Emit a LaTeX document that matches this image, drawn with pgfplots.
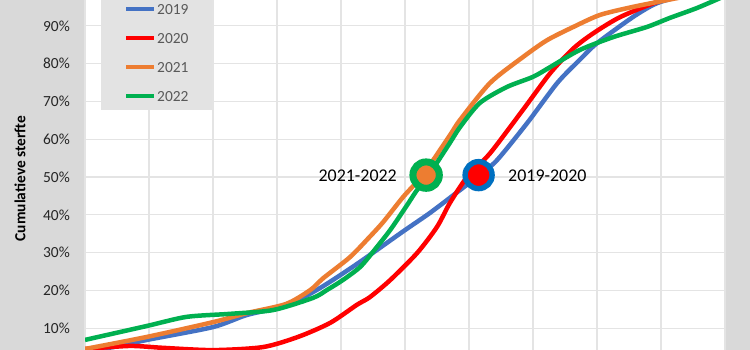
\documentclass[border=0pt]{standalone}
\usepackage{pgfplots}
\pgfplotsset{compat=1.18}
\usepackage{fontspec}
\setmainfont{Carlito}
\definecolor{bggray}{HTML}{D9D9D9}
\definecolor{leggray}{HTML}{E3E3E3}
\definecolor{gridc}{HTML}{E4E4E4}
\definecolor{c19}{HTML}{4472C4}
\definecolor{c20}{HTML}{FF0000}
\definecolor{c21}{HTML}{ED7D31}
\definecolor{c22}{HTML}{00B050}
\definecolor{cblue}{HTML}{0070C0}
\begin{document}
\begin{tikzpicture}
\path[use as bounding box] (0,0) rectangle (750bp,350bp);
\clip (0,0) rectangle (750bp,350bp);
\fill[bggray] (0,0) rectangle (750bp,350bp);
\begin{axis}[
  at={(85bp,0bp)}, anchor=south west,
  scale only axis, width=640bp, height=350bp,
  xmin=0, xmax=10, ymin=4.23, ymax=96.83,
  xtick={0,1,...,10}, xticklabels={},
  ytick={10,20,...,90},
  yticklabel={\pgfmathprintnumber{\tick}\%},
  /pgf/number format/assume math mode=true,
  yticklabel style={font=\fontsize{15.5}{18}\selectfont, text=black!85, inner xsep=0pt, xshift=-15bp},
  axis background/.style={fill=white},
  axis line style={draw=none},
  major tick length=0pt,
  grid=major,
  grid style={draw=gridc, line width=1.3bp},
  ylabel={\textbf{Cumulatieve sterfte}},
  ylabel style={at={(axis description cs:-0.1016,0.49)}, anchor=center, font=\fontsize{15.5}{18}\selectfont},
  legend cell align=left,
  legend image code/.code={\draw[#1, line width=4bp] (0bp,0bp) -- (28bp,0bp);},
  legend style={at={(rel axis cs:0.025,0.6857)}, anchor=south west, fill=leggray, draw=none,
    font=\fontsize{15.5}{18}\selectfont, text=black!65,
    nodes={inner sep=0pt, text height=11bp, text depth=0bp},
    row sep=18bp, column sep=1bp, inner xsep=23bp, inner ysep=8.5bp},
  every axis plot/.append style={line width=4.5bp, smooth, tension=0.45},
]
\addplot[c19] coordinates {
(0,4.0) (0.44,5.0) (0.97,6.9) (2.0,10.3) (2.53,13.5) (3.16,16.1) (3.67,20.6)
(4.25,27.0) (4.97,35.6) (5.39,40.5) (5.81,45.9) (6.17,50.6) (6.44,54.5)
(6.91,64.3) (7.38,74.9) (7.73,81.0) (8.0,85.4) (8.56,92.3) (8.94,96.0)
(9.45,98.4) (10,100)};
\addlegendentry{2019}
\addplot[c20] coordinates {
(0,4.5) (0.70,5.3) (1.22,4.8) (2.0,4.2) (2.78,5.0) (3.33,7.7) (3.83,11.4)
(4.25,16.2) (4.45,18.2) (4.77,22.75) (5.19,29.9) (5.5,36.8) (5.70,43.1)
(5.97,50.0) (6.33,56.3) (6.84,67.7) (7.27,77.5) (7.63,84.0) (7.94,88.0)
(8.36,92.3) (8.94,96.3) (9.45,98.4) (10,100)};
\addlegendentry{2020}
\addplot[c21] coordinates {
(0,4.5) (0.97,7.7) (2.0,11.6) (2.53,14.0) (3.14,16.4) (3.52,20.1) (3.72,23.2)
(4.14,28.8) (4.45,34.2) (4.66,38.1) (4.97,44.7) (5.28,50.6) (5.70,61.0)
(5.86,65.1) (6.33,74.9) (6.84,81.7) (7.22,86.2) (7.63,89.7) (8.05,92.9)
(8.56,95.0) (9.09,96.8) (9.6,98.5) (10,100)};
\addlegendentry{2021}
\addplot[c22] coordinates {
(0,6.9) (0.97,10.6) (1.59,13.0) (2.27,13.8) (2.94,14.8) (3.56,18.0) (3.78,20.1)
(4.03,22.75) (4.30,26.2) (4.50,30.2) (4.77,36.0) (5.03,42.5) (5.19,46.6)
(5.39,51.0) (5.70,59.0) (5.86,63.2) (6.17,69.6) (6.59,73.8) (7.0,76.5)
(7.27,79.1) (7.73,83.6) (8.25,87.0) (8.78,89.7) (9.14,92.1) (9.56,94.7) (10,97.9)};
\addlegendentry{2022}
\addplot[forget plot, only marks, mark=*, mark size=13.2bp, mark options={draw=c22, fill=c21, line width=7bp}] coordinates {(5.33,50.5)};
\addplot[forget plot, only marks, mark=*, mark size=13.5bp, mark options={draw=cblue, fill=c20, line width=5.4bp}] coordinates {(6.15,50.5)};
\node[anchor=east, inner sep=0pt, font=\fontsize{18}{21}\selectfont] at (axis cs:4.875,50.3) {2021-2022};
\node[anchor=west, inner sep=0pt, font=\fontsize{18}{21}\selectfont] at (axis cs:6.61,50.3) {2019-2020};
\end{axis}
\end{tikzpicture}
\end{document}
